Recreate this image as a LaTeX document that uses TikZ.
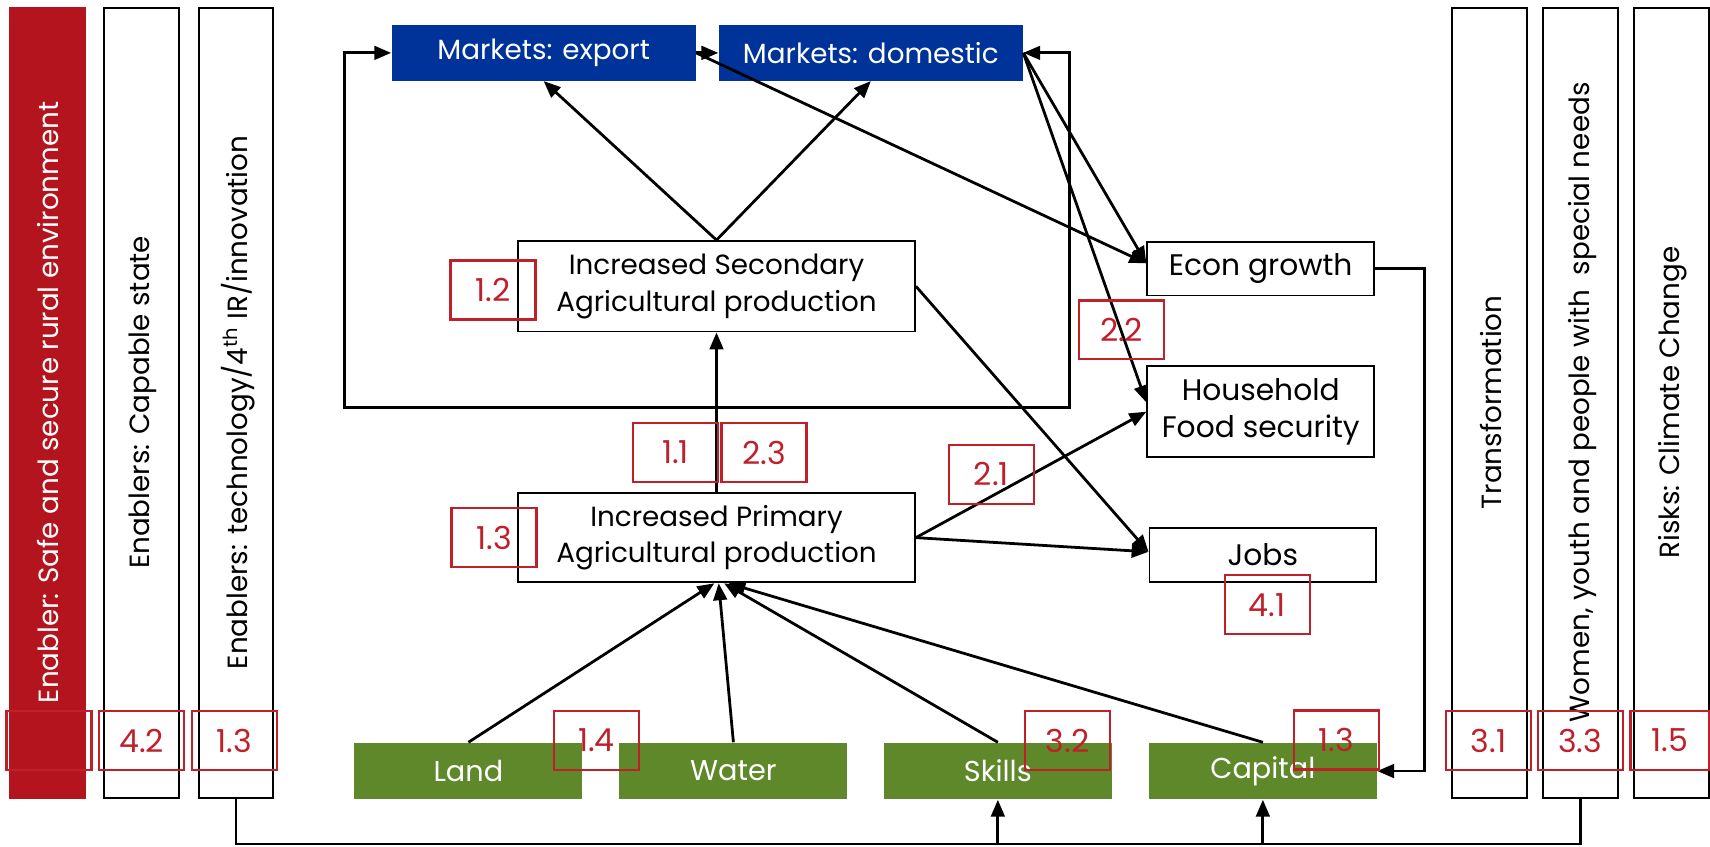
\documentclass[tikz,border=0pt]{standalone}
\usepackage{fontspec}
\setmainfont{Poppins}
\usetikzlibrary{arrows.meta}
\definecolor{barred}{RGB}{180,20,30}
\definecolor{numred}{RGB}{192,32,42}
\definecolor{mktblue}{RGB}{0,51,153}
\definecolor{resgreen}{RGB}{94,136,42}
\begin{document}
\begin{tikzpicture}[x=0.02cm,y=-0.02cm,
  vbar/.style={draw=black, line width=1pt, minimum width=1.37cm, minimum height=14.5cm, inner sep=0pt},
  redbar/.style={fill=barred, draw=barred, minimum width=1.38cm, minimum height=14.5cm, inner sep=0pt},
  vtext/.style={rotate=90, font=\fontsize{14.5}{17}\selectfont, inner sep=0pt},
  numbox/.style={draw=numred, line width=1.2pt, minimum width=1.56cm, minimum height=1.08cm, text=numred, font=\fontsize{16.5}{19}\selectfont, inner sep=0pt},
  mkt/.style={fill=mktblue, text=white, minimum width=5.58cm, minimum height=1.02cm, inner sep=0pt, font=\fontsize{14.5}{17}\selectfont},
  wbox/.style={draw=black, line width=1pt, fill=white, inner sep=0pt, align=center, font=\fontsize{14.5}{19}\selectfont},
  obox/.style={draw=black, line width=1pt, fill=white, inner sep=0pt, align=center, minimum width=4.16cm, font=\fontsize{15.5}{19}\selectfont},
  gbox/.style={fill=resgreen, text=white, minimum width=4.18cm, minimum height=1.04cm, inner sep=0pt, font=\fontsize{15}{18}\selectfont},
  arr/.style={line width=1.45pt, -{Triangle[length=0.31cm,width=0.25cm]}},
  ln/.style={line width=1.45pt},
]
\useasboundingbox (0,0) rectangle (1568,776);

% vertical bars
\node[redbar] (rbar) at (43.5,369.5) {};
\node[vtext, text=white] (rbartext) at (44,369) {Enabler: Safe and secure rural environment};
\node[vbar] (capbar) at (130,369.5) {};
\node[vtext] (captext) at (131,369) {Enablers: Capable state};
\node[vbar] (techbar) at (216.5,369.5) {};
\node[vtext] (techtext) at (218,369) {Enablers: technology/4\textsuperscript{th} IR/innovation};
\node[vbar] (transbar) at (1366,369.5) {};
\node[vtext] (transtext) at (1367,369) {Transformation};
\node[vbar] (womenbar) at (1449.5,369.5) {};
\node[vtext] (womentext) at (1451,369) {Women, youth and people with \ special needs};
\node[vbar] (risksbar) at (1532.5,369.5) {};
\node[vtext] (riskstext) at (1534,369) {Risks: Climate Change};

% markets
\node[mkt] (export) at (498.5,48.5) {Markets: export};
\node[mkt] (domestic) at (798.5,48.5) {Markets: domestic};

% production boxes
\node[wbox, minimum width=7.28cm, minimum height=1.66cm] (secondary) at (657,262.5) {Increased Secondary\\Agricultural production};
\node[wbox, minimum width=7.28cm, minimum height=1.64cm] (primary) at (657,493) {Increased Primary\\Agricultural production};

% outcomes
\node[obox, minimum height=0.98cm] (econ) at (1156,246.5) {Econ growth};
\node[obox, minimum height=1.66cm] (household) at (1156,377.5) {Household\\Food security};
\node[obox, minimum height=1.0cm] (jobs) at (1158,509) {Jobs};

% resources
\node[gbox] (land) at (429.5,707) {Land};
\node[gbox] (water) at (672.5,707) {Water};
\node[gbox] (skills) at (915,707) {Skills};
\node[gbox] (capital) at (1158,707) {Capital};

% connectors
\coordinate (J) at (657,374);
\coordinate (loopL) at (316,374);
\coordinate (loopR) at (981,374);
\draw[arr] (primary.north) -- (secondary.south);
\draw[arr] (J) -- (loopL) |- (export.west);
\draw[arr] (J) -- (loopR) |- (domestic.east);
\draw[arr] (secondary.north) -- (export.south);
\draw[arr] (secondary.north) -- (domestic.south);
\draw[arr] (export.east) -- (domestic.west);
\draw[arr] (export.east) -- ([yshift=0.1cm]econ.west);
\draw[arr] (domestic.east) -- ([yshift=0.1cm]econ.west);
\draw[arr] (domestic.east) -- ([yshift=0.17cm]household.west);
\draw[arr] (primary.east) -- (household.west);
\draw[arr] (secondary.east) -- ([yshift=0.06cm]jobs.west);
\draw[arr] (primary.east) -- ([yshift=0.06cm]jobs.west);
\draw[arr] (land.north) -- ([xshift=-0.04cm]primary.south);
\draw[arr] (water.north) -- ([xshift=0.04cm]primary.south);
\draw[arr] (skills.north) -- ([xshift=0.14cm]primary.south);
\draw[arr] (capital.north) -- ([xshift=0.22cm]primary.south);
\coordinate (econR) at (1306,246.5);
\draw[arr] (econ.east) -- (econR) |- (capital.east);
\coordinate (busL) at (216.5,774);
\coordinate (busR) at (1449.5,774);
\draw[ln] (techbar.south) -- (busL) -- (busR) -- (womenbar.south);
\draw[arr] (skills.south |- busL) -- (skills.south);
\draw[arr] (capital.south |- busL) -- (capital.south);

% number boxes
\node[numbox] (n0) at (45,679) {};
\node[numbox] (n42) at (130,679) {4.2};
\node[numbox] (n13a) at (215,679) {1.3};
\node[numbox] (n31) at (1365,679) {3.1};
\node[numbox] (n33) at (1449,679) {3.3};
\node[numbox, minimum width=1.44cm] (n15) at (1531,679) {1.5};
\node[numbox] (n12) at (452,266) {1.2};
\node[numbox] (n13b) at (453,493) {1.3};
\node[numbox] (n11) at (619.5,415) {1.1};
\node[numbox] (n23) at (700.5,415) {2.3};
\node[numbox] (n21) at (909,435) {2.1};
\node[numbox] (n22) at (1028.5,302.5) {2.2};
\node[numbox] (n41) at (1162,554.5) {4.1};
\node[numbox] (n14) at (547,679) {1.4};
\node[numbox] (n32) at (979,679) {3.2};
\node[numbox] (n13c) at (1225.5,678.5) {1.3};
\end{tikzpicture}
\end{document}
